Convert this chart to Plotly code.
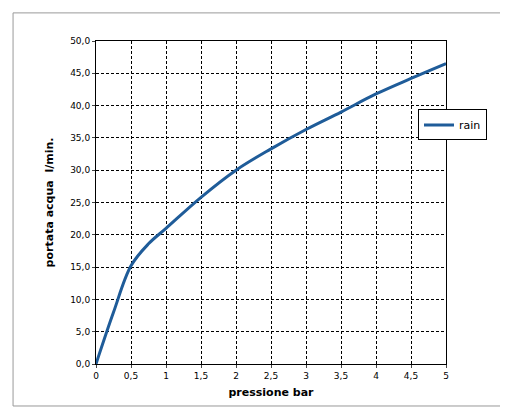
import plotly.graph_objects as go

pressione = [0, 0.25, 0.5, 0.75, 1, 1.5, 2, 2.5, 3, 3.5, 4, 4.5, 5]
portata = [0, 8.0, 15.2, 18.6, 21.0, 25.8, 30.0, 33.3, 36.3, 39.0, 41.8, 44.2, 46.5]
x_ticks = [0, 0.5, 1, 1.5, 2, 2.5, 3, 3.5, 4, 4.5, 5]
x_labels = ["0", "0,5", "1", "1,5", "2", "2,5", "3", "3,5", "4", "4,5", "5"]
y_ticks = [0, 5, 10, 15, 20, 25, 30, 35, 40, 45, 50]
y_labels = [("%.1f" % v).replace(".", ",") for v in y_ticks]

fig = go.Figure(go.Scatter(x=pressione, y=portata, mode="lines", name="rain",
                           line=dict(color="#1f5c99", width=3, shape="spline")))

fig.update_layout(
    width=508, height=408,
    margin=dict(l=88, r=70, t=33, b=52, autoexpand=False),
    paper_bgcolor="white", plot_bgcolor="white",
    font=dict(family="DejaVu Sans", size=9, color="black"),
    showlegend=True,
    legend=dict(x=0.92, y=0.74, xanchor="left", yanchor="middle", bgcolor="white",
                bordercolor="black", borderwidth=1, font=dict(size=11)),
    shapes=[dict(type="rect", xref="paper", yref="paper", x0=-0.237, x1=1.177, y0=-0.13, y1=1.087,
                 line=dict(color="#999999", width=1))],
)
fig.update_xaxes(range=[0, 5], tickvals=x_ticks, ticktext=x_labels, showgrid=True,
                 gridcolor="black", griddash="3px,2px", gridwidth=0.6, showline=True,
                 linecolor="black", mirror=True, ticks="outside", ticklen=3,
                 title=dict(text="<b>pressione bar</b>", font=dict(size=11), standoff=8))
fig.update_yaxes(range=[0, 50], tickvals=y_ticks, ticktext=y_labels, showgrid=True,
                 gridcolor="black", griddash="3px,2px", gridwidth=0.6, showline=True,
                 linecolor="black", mirror=True, ticks="outside", ticklen=3,
                 title=dict(text="<b>portata acqua  l/min.</b>", font=dict(size=11), standoff=14))

fig.write_html("out.html")
